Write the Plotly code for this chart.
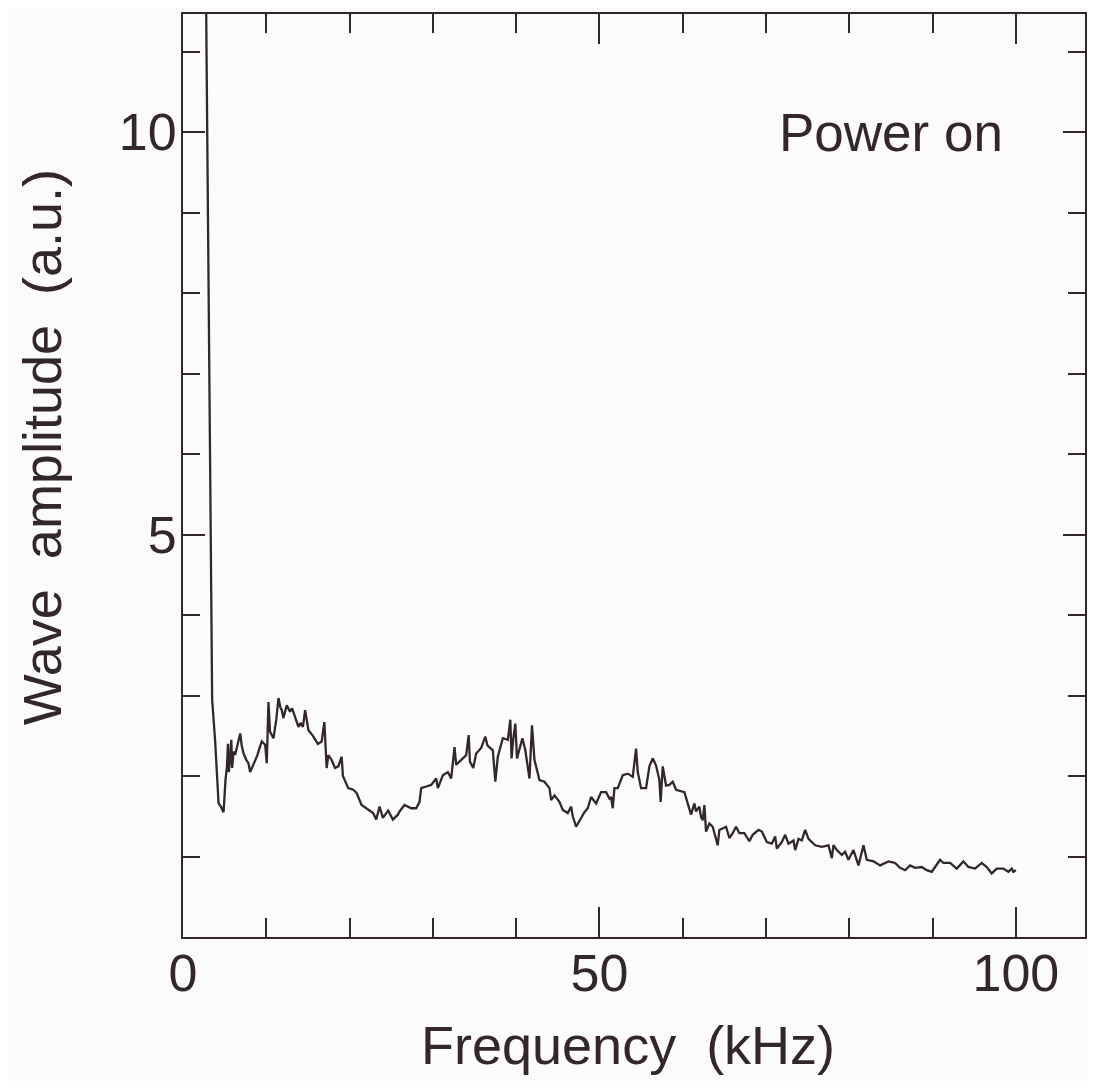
import plotly.graph_objects as go

freq_khz = [
    2.70, 3.50, 3.85, 4.27, 4.55, 4.87, 5.10, 5.27, 5.40, 5.50, 5.67, 5.80, 5.90, 6.07, 6.30, 6.60,
    6.87, 7.05, 7.27, 7.60, 7.86, 8.06, 8.46, 8.90, 9.20, 9.46, 9.86, 10.06, 10.26, 10.45, 10.86,
    11.20, 11.46, 11.70, 11.86, 12.05, 12.46, 12.85, 13.10, 13.46, 13.86, 14.10, 14.40, 14.66,
    15.06, 15.60, 16.20, 16.65, 16.97, 17.25, 17.45, 17.85, 18.25, 18.65, 19.05, 19.20, 19.84,
    20.45, 20.84, 21.44, 22.05, 22.83, 23.20, 23.60, 24.00, 24.63, 25.20, 25.80, 26.00, 26.60,
    27.40, 28.00, 28.40, 28.60, 29.20, 29.80, 30.40, 30.60, 31.20, 31.80, 32.20, 32.60, 32.80,
    33.40, 34.00, 34.30, 34.45, 34.85, 35.20, 35.80, 36.30, 36.55, 37.20, 37.50, 37.80, 38.40,
    39.00, 39.30, 39.45, 39.65, 39.90, 40.10, 40.40, 40.75, 41.10, 41.60, 41.90, 42.20, 42.80,
    43.40, 44.00, 44.20, 44.60, 45.20, 45.60, 46.20, 46.60, 46.80, 47.20, 47.80, 48.20, 48.60,
    49.00, 49.60, 50.20, 50.80, 51.20, 51.40, 51.60, 51.80, 52.20, 52.80, 53.40, 54.00, 54.40,
    54.60, 55.00, 55.60, 56.00, 56.40, 56.80, 57.20, 57.35, 57.60, 58.00, 58.40, 58.80, 59.20,
    60.20, 60.60, 61.00, 61.40, 61.60, 62.00, 62.20, 62.40, 62.60, 62.80, 63.20, 63.60, 64.20,
    64.40, 64.80, 65.20, 65.60, 66.00, 66.40, 66.80, 67.40, 68.00, 68.40, 69.10, 69.50, 70.10,
    70.70, 71.10, 71.30, 71.90, 72.30, 72.70, 73.30, 73.50, 73.90, 74.30, 74.70, 75.10, 75.90,
    76.70, 77.50, 77.90, 78.10, 78.50, 79.10, 79.50, 79.90, 80.50, 81.10, 81.70, 82.10, 82.90,
    83.70, 84.70, 85.50, 86.10, 86.70, 87.30, 87.90, 88.70, 89.30, 89.90, 90.30, 90.90, 91.30,
    92.10, 92.90, 93.70, 94.30, 95.10, 95.90, 96.50, 97.10, 97.70, 98.50, 99.10, 99.50, 99.70,
    100.00,
]

amplitude = [
    12.50, 2.95, 2.45, 1.66, 1.62, 1.55, 1.95, 2.11, 2.40, 2.05, 2.24, 2.45, 2.10, 2.30, 2.28, 2.40,
    2.53, 2.38, 2.28, 2.20, 2.16, 2.05, 2.14, 2.25, 2.35, 2.43, 2.39, 2.16, 2.92, 2.55, 2.47,
    2.70, 2.97, 2.85, 2.82, 2.72, 2.88, 2.80, 2.84, 2.74, 2.61, 2.66, 2.61, 2.82,
    2.57, 2.50, 2.40, 2.43, 2.67, 2.10, 2.26, 2.20, 2.10, 2.12, 2.24, 2.00, 1.85,
    1.83, 1.79, 1.64, 1.60, 1.54, 1.46, 1.62, 1.48, 1.57, 1.46, 1.52, 1.56, 1.64,
    1.60, 1.60, 1.68, 1.85, 1.87, 1.89, 1.97, 1.85, 2.01, 2.05, 1.97, 2.36, 2.14,
    2.20, 2.26, 2.51, 2.18, 2.10, 2.28, 2.35, 2.49, 2.38, 2.32, 1.93, 2.24, 2.47,
    2.45, 2.70, 2.22, 2.46, 2.65, 2.22, 2.35, 2.47, 2.32, 1.97, 2.63, 2.20, 1.95,
    1.93, 1.85, 1.70, 1.76, 1.68, 1.58, 1.54, 1.62, 1.50, 1.37, 1.49, 1.55, 1.60,
    1.74, 1.66, 1.80, 1.80, 1.72, 1.74, 1.60, 1.85, 1.85, 2.01, 2.03, 1.99, 2.34,
    2.05, 1.85, 1.85, 2.12, 2.22, 2.13, 1.95, 1.68, 2.12, 1.88, 1.89, 1.93, 1.83,
    1.80, 1.66, 1.52, 1.66, 1.56, 1.62, 1.49, 1.45, 1.64, 1.31, 1.41, 1.37, 1.14,
    1.33, 1.35, 1.37, 1.23, 1.29, 1.37, 1.29, 1.29, 1.19, 1.27, 1.33, 1.31, 1.18,
    1.16, 1.25, 1.10, 1.18, 1.27, 1.16, 1.20, 1.08, 1.22, 1.20, 1.33, 1.22, 1.14,
    1.12, 1.14, 0.98, 1.14, 1.08, 1.02, 1.06, 0.96, 1.08, 0.89, 1.14, 0.96, 0.94,
    0.89, 0.94, 0.92, 0.86, 0.83, 0.89, 0.86, 0.87, 0.83, 0.81, 0.87, 0.96, 0.92,
    0.92, 0.85, 0.94, 0.87, 0.85, 0.92, 0.87, 0.79, 0.85, 0.85, 0.81, 0.85, 0.81,
    0.83,
]

x_tickvals = [0, 50, 100]
y_tickvals = [5, 10]

INK = "#33262d"
BG = "#fbfbfc"
FONT = "Liberation Sans, Arial, sans-serif"

fig = go.Figure()
fig.add_trace(go.Scatter(
    x=freq_khz, y=amplitude, mode="lines",
    line=dict(color=INK, width=2.3), hoverinfo="x+y", showlegend=False,
))

fig.update_layout(
    width=1079, height=1073,
    paper_bgcolor=BG, plot_bgcolor=BG,
    margin=dict(l=175, r=0, t=6, b=144),
    font=dict(family=FONT, color=INK),
    xaxis=dict(
        range=[0, 108.3], tickvals=x_tickvals, ticks="inside", ticklen=30, tickwidth=2,
        tickcolor=INK, showline=True, linecolor=INK, linewidth=2, mirror="allticks",
        showgrid=False, zeroline=False, tickfont=dict(size=52, color=INK),
        ticklabelstandoff=-10,
        minor=dict(dtick=10, tick0=0, ticks="inside", ticklen=19, tickwidth=2,
                   tickcolor=INK, showgrid=False),
    ),
    yaxis=dict(
        range=[0, 11.47], tickvals=y_tickvals, ticks="inside", ticklen=22, tickwidth=2,
        tickcolor=INK, showline=True, linecolor=INK, linewidth=2, mirror="allticks",
        showgrid=False, zeroline=False, tickfont=dict(size=52, color=INK),
        ticklabelstandoff=-6,
        minor=dict(dtick=1, tick0=0, ticks="inside", ticklen=17, tickwidth=2,
                   tickcolor=INK, showgrid=False),
    ),
    annotations=[
        dict(text="Power on", x=98.7, xref="x", y=10.0, yref="y",
             xanchor="right", yanchor="middle", showarrow=False,
             font=dict(size=53, color=INK, family=FONT)),
        dict(text="Wave  amplitude  (a.u.)", xref="paper", yref="paper",
             x=-0.156, y=0.531, textangle=-90, xanchor="center", yanchor="middle",
             showarrow=False, font=dict(size=54, color=INK, family=FONT)),
        dict(text="Frequency  (kHz)", xref="paper", yref="paper",
             x=0.493, y=-0.152, xanchor="center", yanchor="bottom",
             showarrow=False, font=dict(size=54, color=INK, family=FONT)),
    ],
)

fig.write_html("out.html")
